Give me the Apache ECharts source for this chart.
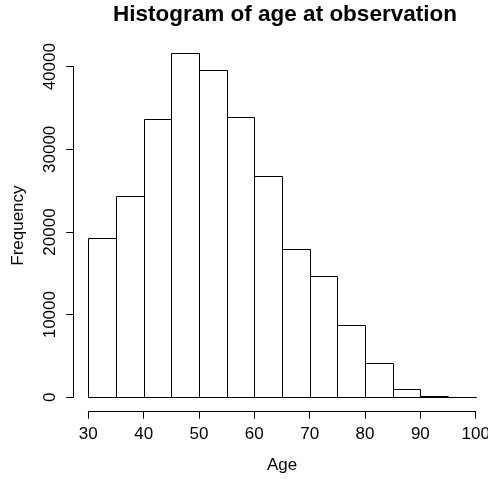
<!DOCTYPE html>
<html>
<head>
<meta charset="utf-8">
<script src="https://cdn.jsdelivr.net/npm/echarts@6/dist/echarts.min.js"></script>
<style>
  html, body { margin: 0; padding: 0; background: #fff; }
  #chart { width: 488px; height: 479px; }
</style>
</head>
<body>
<div id="chart"></div>
<script>
// Histogram bins (5-year wide) and their frequencies
const binStarts = [30, 35, 40, 45, 50, 55, 60, 65, 70, 75, 80, 85, 90, 95];
const binWidth = 5;
const counts = [19250, 24400, 33650, 41650, 39600, 33900, 26800, 17900, 14700, 8800, 4100, 1050, 150, 0];
const xTicks = [30, 40, 50, 60, 70, 80, 90, 100];
const yTicks = [0, 10000, 20000, 30000, 40000];

const FONT = "'Liberation Sans', Arial, Helvetica, sans-serif";
const LABEL_SIZE = 17;

const chart = echarts.init(document.getElementById('chart'), null, { renderer: 'canvas' });

const data = binStarts.map((s, i) => [s, s + binWidth, counts[i]]);

function crisp(v) { return Math.round(v) + 0.5; }

chart.setOption({
  animation: false,
  backgroundColor: '#ffffff',
  title: {
    text: 'Histogram of age at observation',
    left: 280,
    textAlign: 'center',
    top: -2,
    textStyle: { fontFamily: FONT, fontSize: 22.5, fontWeight: 'bold', color: '#000' }
  },
  grid: {
    left: 88.3, right: 12.3, top: 66.7, bottom: 81.7,
    outerBoundsMode: 'none'
  },
  xAxis: {
    type: 'value',
    min: xTicks[0],
    max: xTicks[xTicks.length - 1],
    interval: 10,
    offset: 14.4,
    name: 'Age',
    nameLocation: 'middle',
    nameGap: 45,
    nameTextStyle: { fontFamily: FONT, fontSize: LABEL_SIZE, color: '#000' },
    axisLine: { show: true, onZero: false, lineStyle: { color: '#000', width: 1 } },
    axisTick: { show: true, length: 7, lineStyle: { color: '#000', width: 1 } },
    axisLabel: {
      fontFamily: FONT, fontSize: LABEL_SIZE, color: '#000', margin: 14,
      showMinLabel: true, showMaxLabel: true,
      formatter: v => String(v)
    },
    splitLine: { show: false }
  },
  yAxis: {
    type: 'value',
    min: yTicks[0],
    max: yTicks[yTicks.length - 1],
    interval: 10000,
    offset: 15,
    axisLine: { show: true, onZero: false, lineStyle: { color: '#000', width: 1 } },
    axisTick: { show: true, length: 7, lineStyle: { color: '#000', width: 1 } },
    axisLabel: {
      fontFamily: FONT, fontSize: LABEL_SIZE, color: '#000', rotate: 90, margin: 14,
      showMinLabel: true, showMaxLabel: true,
      formatter: v => String(v)
    },
    splitLine: { show: false }
  },
  graphic: [{
    type: 'text',
    x: 18,
    y: 225.6,
    rotation: Math.PI / 2,
    style: {
      text: 'Frequency',
      fontFamily: FONT,
      fontSize: LABEL_SIZE,
      fill: '#000',
      align: 'center',
      verticalAlign: 'middle'
    }
  }],
  series: [{
    type: 'custom',
    clip: false,
    data: data,
    encode: { x: [0, 1], y: 2 },
    renderItem: function (params, api) {
      const p0 = api.coord([api.value(0), api.value(2)]);
      const p1 = api.coord([api.value(1), 0]);
      const x0 = crisp(p0[0]), x1 = crisp(p1[0]);
      const yTop = crisp(p0[1]), yBase = crisp(p1[1]);
      return {
        type: 'rect',
        shape: { x: x0, y: yTop, width: x1 - x0, height: yBase - yTop },
        style: { fill: '#ffffff', stroke: '#000', lineWidth: 1 }
      };
    }
  }]
});
</script>
</body>
</html>
